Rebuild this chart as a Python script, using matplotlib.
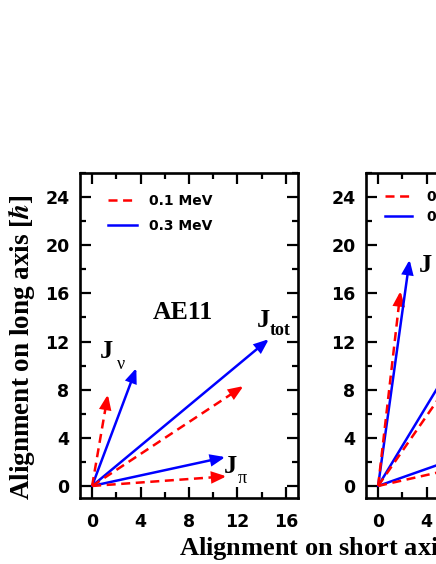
import matplotlib
matplotlib.use('Agg')
import numpy as np
import matplotlib.pyplot as plt
from matplotlib.patches import FancyArrowPatch
from matplotlib.lines import Line2D
from matplotlib.ticker import MultipleLocator

plt.rcParams['mathtext.fontset'] = 'stix'
plt.rcParams['lines.scale_dashes'] = False
plt.rcParams['font.family'] = ['DejaVu Sans']
plt.rcParams['font.weight'] = 'bold'

# ---------------- data ----------------
vector_names = ['nu', 'pi', 'tot']
# left panel (AE11): tips of J_nu, J_pi, J_tot
left_01_x = [1.3, 11.1, 12.5]
left_01_y = [7.6, 0.8, 8.3]
left_03_x = [3.65, 11.0, 14.6]
left_03_y = [9.8, 2.4, 12.2]
# right panel (cropped)
right_01_x = [1.85, 11.0, 12.8]
right_01_y = [16.2, 2.5, 18.6]
right_03_x = [2.6, 11.0, 13.6]
right_03_y = [18.8, 3.9, 22.6]

legend_labels = ['0.1 MeV', '0.3 MeV']
x_ticks = [0, 4, 8, 12, 16]
y_ticks = [0, 4, 8, 12, 16, 20, 24]
xlim = (-1, 17)
ylim = (-1, 26)

RED = '#ff0000'
BLUE = '#0000ff'
LW = 1.8
DASH = (6.5, 4.0)
SERIF = 'Liberation Serif'

W, H = 436, 564
fig = plt.figure(figsize=(W / 100, H / 100), dpi=100)

def px_axes(x0, y0, x1, y1):
    return fig.add_axes([x0 / W, 1 - y1 / H, (x1 - x0) / W, (y1 - y0) / H])

axL = px_axes(80, 173, 298, 498)
axR = px_axes(366, 173, 584, 498)

def style_axes(ax):
    ax.set_xlim(*xlim)
    ax.set_ylim(*ylim)
    ax.set_xticks(x_ticks)
    ax.set_yticks(y_ticks)
    ax.xaxis.set_minor_locator(MultipleLocator(2))
    ax.yaxis.set_minor_locator(MultipleLocator(2))
    ax.tick_params(which='both', direction='in', top=True, right=True, width=1.6)
    ax.tick_params(which='major', length=8)
    ax.tick_params(which='minor', length=4.5)
    ax.tick_params(axis='x', which='major', pad=11, labelsize=12.5)
    ax.tick_params(axis='y', which='major', pad=7.5, labelsize=12.5)
    for lab in ax.get_xticklabels() + ax.get_yticklabels():
        lab.set_fontweight('bold')
    for s in ax.spines.values():
        s.set_linewidth(1.9)

def draw_vec(ax, x, y, color, dashed):
    L = np.hypot(x, y)
    ux, uy = x / L, y / L
    if dashed:
        f = L - 0.6
        ax.plot([0, ux * f], [0, uy * f], color=color, lw=LW, dashes=DASH,
                solid_capstyle='butt', dash_capstyle='butt')
        start = (x - ux * 1.0, y - uy * 1.0)
    else:
        start = (0, 0)
    arr = FancyArrowPatch(start, (x, y),
                          arrowstyle='-|>,head_length=8,head_width=3.2',
                          mutation_scale=1, color=color, lw=LW,
                          shrinkA=0, shrinkB=0, joinstyle='miter')
    ax.add_patch(arr)

for ax, xs1, ys1, xs3, ys3 in [(axL, left_01_x, left_01_y, left_03_x, left_03_y),
                               (axR, right_01_x, right_01_y, right_03_x, right_03_y)]:
    style_axes(ax)
    for x, y in zip(xs1, ys1):
        draw_vec(ax, x, y, RED, True)
    for x, y in zip(xs3, ys3):
        draw_vec(ax, x, y, BLUE, False)

handles = [Line2D([], [], color=RED, lw=LW, dashes=DASH),
           Line2D([], [], color=BLUE, lw=LW)]
axL.legend(handles, legend_labels, loc='upper left', bbox_to_anchor=(0.128, 0.935),
           frameon=False, borderpad=0, borderaxespad=0, handlelength=2.1,
           handletextpad=0.85, labelspacing=0.75,
           prop={'family': 'DejaVu Sans', 'weight': 'bold', 'size': 10})
axR.legend(handles, legend_labels, loc='upper left', bbox_to_anchor=(0.087, 0.948),
           frameon=False, borderpad=0, borderaxespad=0, handlelength=1.95,
           handletextpad=1.05, labelspacing=0.42,
           prop={'family': 'DejaVu Sans', 'weight': 'bold', 'size': 10})

# vector labels: bold serif J with a subscript
def jlabel(ax, x, y, sub, sub_bold, dx, dy):
    ax.text(x, y, 'J', family=SERIF, fontweight='bold', fontsize=19,
            ha='left', va='baseline')
    ax.annotate(sub, xy=(x, y), xytext=(dx, dy), textcoords='offset points',
                family=SERIF, fontweight='bold' if sub_bold else 'normal',
                fontsize=13, ha='left', va='baseline')

jlabel(axL, 0.6, 10.6, 'ν', False, 12.5, -7.5)
jlabel(axL, 13.6, 13.2, 'tot', True, 9, -6)
jlabel(axL, 10.9, 1.1, 'π', False, 9.5, -7.5)
jlabel(axR, 3.33, 17.8, 'ν', False, 12.5, -7.5)

axL.text(7.5, 14.45, 'AE11', family=SERIF, fontweight='bold',
         fontsize=18.5, ha='center', va='center')

fig.text(22 / W, 1 - 347 / H, r'Alignment on long axis [$\hbar$]', rotation=90,
         family=SERIF, fontweight='bold', fontsize=19.5,
         ha='center', va='center')
fig.text(179 / W, 1 - 555 / H, r'Alignment on short axis [$\hbar$]',
         family=SERIF, fontweight='bold', fontsize=19,
         ha='left', va='baseline')

fig.savefig('out.png', dpi=100)
